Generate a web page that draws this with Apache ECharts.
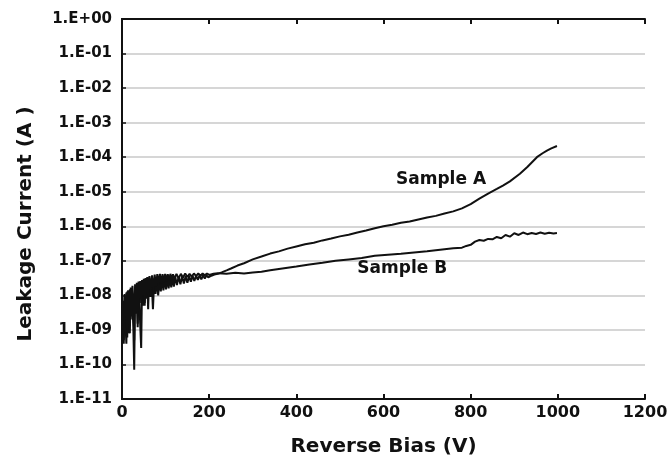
<!DOCTYPE html>
<html><head><meta charset="utf-8">
<script src="https://cdn.jsdelivr.net/npm/echarts@6/dist/echarts.min.js"></script>
<style>html,body{margin:0;padding:0;background:#fff}#c{width:672px;height:462px}</style>
</head><body><div id="c"></div>
<script>
// Sample A: reverse bias (V) and leakage current (A)
const voltsA = [0,2,4,6,8,10,12,14,16,18,20,22,24,26,28,30,32,34,36,38,40,42,44,46,48,50,52,54,56,58,60,
  62,65,68,71,74,77,80,83,86,89,92,95,98,101,104,107,110,113,116,119,
  122,126,130,134,138,142,146,150,154,158,162,166,170,174,178,182,186,190,194,198,
  205,212,220,230,240,250,265,280,300,320,340,360,380,400,420,440,460,480,500,520,540,560,580,600,620,640,660,680,700,720,740,760,780,800,820,840,860,874,890,913,930,952,965,975,985,998];
const currentA = [2e-9,6e-9,5e-10,1.1e-8,1.5e-9,4e-10,1.3e-8,3e-9,8e-10,1.5e-8,2e-9,1.6e-8,5e-9,1.2e-9,7e-11,1.4e-8,3e-9,1.8e-8,1.5e-9,2e-8,6e-9,1.2e-9,3e-10,2.2e-8,5e-9,2.4e-8,6e-9,2.5e-8,8e-9,2.6e-8,4e-9,
  2.7e-8,9e-9,2.8e-8,4e-9,3.0e-8,1.1e-8,3.1e-8,1.0e-8,3.2e-8,1.3e-8,3.3e-8,1.4e-8,3.3e-8,1.5e-8,3.4e-8,1.6e-8,3.4e-8,1.7e-8,3.5e-8,1.8e-8,
  3.5e-8,2.0e-8,3.5e-8,2.1e-8,3.6e-8,2.2e-8,3.6e-8,2.3e-8,3.6e-8,2.5e-8,3.7e-8,2.6e-8,3.7e-8,2.8e-8,3.8e-8,2.9e-8,3.8e-8,3.1e-8,3.8e-8,3.3e-8,
  3.7e-8,4.0e-8,4.2e-8,4.7e-8,5.3e-8,6.0e-8,7.3e-8,8.5e-8,1.1e-7,1.33e-7,1.62e-7,1.88e-7,2.25e-7,2.6e-7,3.0e-7,3.35e-7,3.9e-7,4.4e-7,5.1e-7,5.7e-7,6.6e-7,7.5e-7,8.8e-7,1.0e-6,1.1e-6,1.26e-6,1.38e-6,1.58e-6,1.8e-6,2.0e-6,2.35e-6,2.7e-6,3.3e-6,4.4e-6,6.3e-6,8.8e-6,1.2e-5,1.5e-5,2.0e-5,3.3e-5,5.2e-5,1.0e-4,1.3e-4,1.55e-4,1.8e-4,2.1e-4];
// Sample B
const voltsB = [0,2,4,6,8,10,12,14,16,18,20,22,24,26,28,30,32,34,36,38,40,42,44,46,48,50,52,54,56,58,60,
  63,66,69,72,75,78,81,84,87,90,93,96,99,102,105,108,111,114,117,120,
  125,130,135,140,145,150,155,160,165,170,175,180,185,190,195,200,
  210,220,240,260,280,300,320,340,360,380,400,430,460,490,520,550,580,610,640,670,700,730,760,780,790,800,810,820,830,840,850,860,870,880,890,900,910,920,930,940,950,960,970,980,990,998];
const currentB = [1.5e-9,7e-9,4e-10,9e-9,2.5e-9,1.2e-8,6e-10,1.4e-8,4e-9,8e-10,1.7e-8,2.5e-9,1.9e-8,7e-9,5e-10,2.1e-8,3e-9,2.3e-8,1.2e-9,2.5e-8,8e-9,2.6e-8,6e-9,2.8e-8,1.0e-8,3.0e-8,5e-9,3.2e-8,1.2e-8,3.4e-8,9e-9,
  3.6e-8,1.5e-8,3.8e-8,1.3e-8,4.0e-8,1.8e-8,4.1e-8,2.0e-8,4.2e-8,2.2e-8,4.1e-8,2.4e-8,4.2e-8,2.6e-8,4.1e-8,2.7e-8,4.2e-8,2.9e-8,4.1e-8,3.0e-8,
  4.2e-8,3.1e-8,4.2e-8,3.3e-8,4.3e-8,3.4e-8,4.2e-8,3.5e-8,4.3e-8,3.6e-8,4.3e-8,3.7e-8,4.3e-8,3.8e-8,4.3e-8,3.9e-8,
  4.2e-8,4.4e-8,4.2e-8,4.5e-8,4.3e-8,4.6e-8,4.8e-8,5.3e-8,5.8e-8,6.3e-8,6.8e-8,7.8e-8,8.8e-8,1.0e-7,1.1e-7,1.2e-7,1.4e-7,1.5e-7,1.6e-7,1.75e-7,1.9e-7,2.1e-7,2.3e-7,2.4e-7,2.7e-7,2.9e-7,3.6e-7,4.0e-7,3.8e-7,4.3e-7,4.2e-7,4.9e-7,4.5e-7,5.6e-7,5.0e-7,6.3e-7,5.6e-7,6.6e-7,5.9e-7,6.4e-7,6.0e-7,6.6e-7,6.1e-7,6.5e-7,6.2e-7,6.4e-7];
const xTicks = [0,200,400,600,800,1000,1200];
const yMin = 1e-11, yMax = 1;
const yTitle = 'Leakage Current (A )';
const xTitle = 'Reverse Bias (V)';
const labelA = {text: 'Sample A', v: 732, i: 2.2e-5};
const labelB = {text: 'Sample B', v: 643, i: 6.0e-8};

function fmtY(v){
  const e = Math.round(Math.log10(v));
  const a = Math.abs(e);
  return '1.E' + (e >= 0 ? '+' : '-') + (a < 10 ? '0' : '') + a;
}
const font = '"DejaVu Sans", sans-serif';
const ink = '#111';
const chart = echarts.init(document.getElementById('c'));
const ann = (l) => ({
  symbol: 'circle', symbolSize: 1, silent: true,
  itemStyle: {color: 'rgba(0,0,0,0)'},
  label: {show: true, position: 'inside', formatter: l.text, fontFamily: font, fontWeight: 'bold', fontSize: 17, color: ink},
  data: [{coord: [l.v, l.i]}]
});
chart.setOption({
  animation: false,
  backgroundColor: '#fff',
  grid: {left: 122, right: 27, top: 19, bottom: 61, containLabel: false},
  xAxis: [{
    type: 'value', min: xTicks[0], max: xTicks[xTicks.length-1], interval: 200,
    name: xTitle, nameLocation: 'middle', nameGap: 38,
    nameTextStyle: {fontFamily: font, fontWeight: 'bold', fontSize: 20, color: ink},
    axisLine: {lineStyle: {color: ink, width: 2}},
    axisTick: {inside: true, length: 5, lineStyle: {color: ink, width: 2}},
    axisLabel: {fontFamily: font, fontWeight: 'bold', fontSize: 16, color: ink, margin: 6, formatter: (v) => String(v)},
    splitLine: {show: false}
  },{
    type: 'value', position: 'top', min: xTicks[0], max: xTicks[xTicks.length-1], interval: 200,
    axisLine: {show: true, lineStyle: {color: ink, width: 2}},
    axisTick: {inside: true, length: 5, lineStyle: {color: ink, width: 2}},
    axisLabel: {show: false}, splitLine: {show: false}
  }],
  yAxis: [{
    type: 'log', logBase: 10, min: yMin, max: yMax, interval: 1,
    name: yTitle, nameLocation: 'middle', nameGap: 86,
    nameTextStyle: {fontFamily: font, fontWeight: 'bold', fontSize: 20, color: ink, padding: [0, 30, 0, 0]},
    axisLine: {show: true, lineStyle: {color: ink, width: 2}},
    axisTick: {show: true, inside: true, length: 4, lineStyle: {color: ink, width: 1.5}},
    axisLabel: {fontFamily: font, fontWeight: 'bold', fontSize: 15, color: ink, margin: 10, formatter: fmtY},
    minorTick: {show: false},
    splitLine: {show: true, lineStyle: {color: '#c8c8c8', width: 1.5}}
  },{
    type: 'log', logBase: 10, min: yMin, max: yMax, position: 'right',
    axisLine: {show: true, lineStyle: {color: ink, width: 2}},
    axisTick: {show: false}, axisLabel: {show: false}, splitLine: {show: false}
  }],
  series: [
    {name: 'Sample A', type: 'line', showSymbol: false, data: voltsA.map((v,k)=>[v,currentA[k]]),
     lineStyle: {color: ink, width: 2}, markPoint: ann(labelA)},
    {name: 'Sample B', type: 'line', showSymbol: false, data: voltsB.map((v,k)=>[v,currentB[k]]),
     lineStyle: {color: ink, width: 2}, markPoint: ann(labelB)}
  ]
});
</script></body></html>
